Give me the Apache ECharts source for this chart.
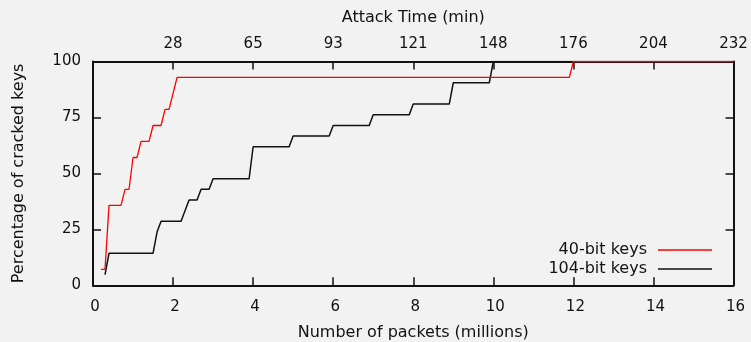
<!DOCTYPE html>
<html>
<head>
<meta charset="utf-8">
<script src="https://cdn.jsdelivr.net/npm/echarts@6/dist/echarts.min.js"></script>
<style>
html,body{margin:0;padding:0;background:#f2f2f2;}
#chart{width:751px;height:342px;}
</style>
</head>
<body>
<div id="chart"></div>
<script>
const seriesNames = ['40-bit keys', '104-bit keys'];
const redX = [0.2, 0.3, 0.4, 0.7, 0.8, 0.9, 1.0, 1.1, 1.2, 1.4, 1.5, 1.7, 1.8, 1.9, 2.1, 11.9, 12.0, 16];
const redY = [7.1, 7.1, 35.7, 35.7, 42.9, 42.9, 57.1, 57.1, 64.3, 64.3, 71.4, 71.4, 78.6, 78.6, 92.9, 92.9, 100, 100];
const blackX = [0.3, 0.4, 1.5, 1.6, 1.7, 2.2, 2.4, 2.6, 2.7, 2.9, 3.0, 3.9, 4.0, 4.9, 5.0, 5.9, 6.0, 6.9, 7.0, 7.9, 8.0, 8.9, 9.0, 9.9, 10.0, 16];
const blackY = [4.8, 14.3, 14.3, 23.8, 28.6, 28.6, 38.1, 38.1, 42.9, 42.9, 47.6, 47.6, 61.9, 61.9, 66.7, 66.7, 71.4, 71.4, 76.2, 76.2, 81.0, 81.0, 90.5, 90.5, 100, 100];
const topTickValues = [2, 4, 6, 8, 10, 12, 14, 16];
const topTickLabels = ['28', '65', '93', '121', '148', '176', '204', '232'];

const FONT = 'DejaVu Sans';
const TXT = '#111';
const zip = (xs, ys) => xs.map((x, i) => [x, ys[i]]);

const frameLine = {show: true, onZero: false, lineStyle: {color: '#111', width: 2}};
const inTick = {show: true, inside: true, length: 8, lineStyle: {color: '#111', width: 1.5}};

const chart = echarts.init(document.getElementById('chart'), null, {renderer: 'canvas'});
chart.setOption({
  backgroundColor: '#f2f2f2',
  animation: false,
  grid: {left: 93, right: 17.5, top: 61.5, bottom: 56.7, containLabel: false, outerBoundsMode: 'none'},
  legend: [
    {
      data: [seriesNames[0]], right: 39, top: 242, align: 'right', padding: 0,
      icon: 'rect', itemWidth: 54, itemHeight: 1.5,
      textStyle: {fontFamily: FONT, fontSize: 16, color: TXT, padding: [0, 6, 0, 0]}
    },
    {
      data: [seriesNames[1]], right: 39, top: 261, align: 'right', padding: 0,
      icon: 'rect', itemWidth: 54, itemHeight: 1.5,
      textStyle: {fontFamily: FONT, fontSize: 16, color: TXT, padding: [0, 6, 0, 0]}
    }
  ],
  xAxis: [
    {
      type: 'value', position: 'bottom', min: 0, max: 16, interval: 2,
      name: 'Number of packets (millions)', nameLocation: 'middle', nameGap: 40,
      nameTextStyle: {fontFamily: FONT, fontSize: 16, color: TXT},
      axisLine: frameLine, axisTick: inTick, splitLine: {show: false},
      axisLabel: {fontFamily: FONT, fontSize: 15, color: TXT, margin: 14, padding: [0, 0, 0, 4]}
    },
    {
      type: 'value', position: 'top', min: 0, max: 16, interval: 2,
      name: 'Attack Time (min)', nameLocation: 'middle', nameGap: 36,
      nameTextStyle: {fontFamily: FONT, fontSize: 16, color: TXT},
      axisLine: frameLine, axisTick: inTick, splitLine: {show: false},
      axisLabel: {
        fontFamily: FONT, fontSize: 15, color: TXT, margin: 10,
        formatter: v => { const i = topTickValues.indexOf(v); return i >= 0 ? topTickLabels[i] : ''; }
      }
    }
  ],
  yAxis: [
    {
      type: 'value', position: 'left', min: 0, max: 100, interval: 25,
      name: 'Percentage of cracked keys', nameLocation: 'middle', nameGap: 66,
      nameTextStyle: {fontFamily: FONT, fontSize: 16, color: TXT},
      axisLine: frameLine, axisTick: inTick, splitLine: {show: false},
      axisLabel: {fontFamily: FONT, fontSize: 15, color: TXT, margin: 12, padding: [6, 0, 0, 0]}
    },
    {
      type: 'value', position: 'right', min: 0, max: 100, interval: 25,
      axisLine: frameLine, axisTick: inTick, splitLine: {show: false},
      axisLabel: {show: false}
    }
  ],
  series: [
    {
      name: seriesNames[0], type: 'line', xAxisIndex: 0, yAxisIndex: 0,
      data: zip(redX, redY), symbol: 'none', showSymbol: false,
      lineStyle: {color: '#ff0000', width: 1.3}, itemStyle: {color: '#ff0000'}, z: 3
    },
    {
      name: seriesNames[1], type: 'line', xAxisIndex: 0, yAxisIndex: 0,
      data: zip(blackX, blackY), symbol: 'none', showSymbol: false,
      lineStyle: {color: '#111', width: 1.5}, itemStyle: {color: '#111'}, z: 2
    }
  ]
});
</script>
</body>
</html>
